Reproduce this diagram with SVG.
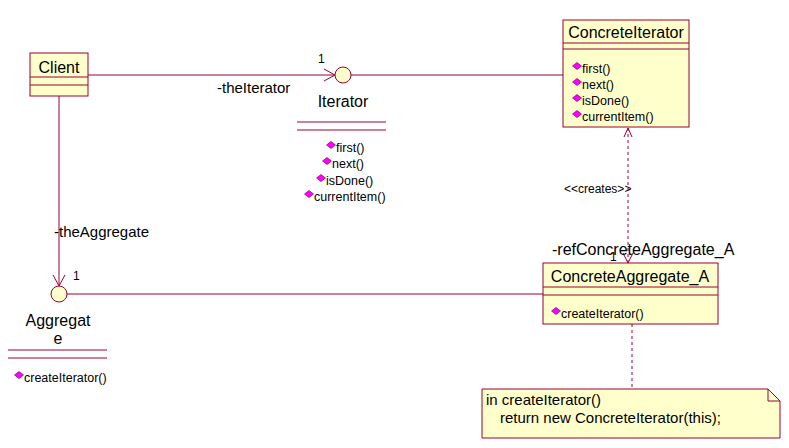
<svg xmlns="http://www.w3.org/2000/svg" width="789" height="448" viewBox="0 0 789 448">
<defs>
<style>
.box{fill:#FFFFCC;stroke:#990033;stroke-width:1}
.ln{stroke:#990033;stroke-width:1;fill:none}
.dash{stroke:#990033;stroke-width:1;fill:none;stroke-dasharray:3,3}
.t{font-family:"Liberation Sans",Arial,sans-serif;fill:#000}
.cn{font-size:16px}
.m{font-size:12.5px}
.lbl{font-size:15px}
.sm{font-size:12px}
.d{fill:#FF00FF;stroke:#800080;stroke-width:0.7}
</style>
<polygon id="dia" class="d" points="0,-3.5 4.5,0 0,3.5 -4.5,0"/>
</defs>
<rect width="789" height="448" fill="#FFFFFF"/>

<g id="connectors">
<line class="ln" x1="88" y1="75" x2="335" y2="75"/>
<polyline class="ln" points="324,69 335,75 324,81"/>
<line class="ln" x1="351" y1="75" x2="563" y2="75"/>
<line class="ln" x1="59" y1="96" x2="59" y2="286"/>
<polyline class="ln" points="53,275 59,286 65,275"/>
<line class="ln" x1="67" y1="294" x2="543" y2="294"/>
<line class="dash" x1="628" y1="128" x2="628" y2="263"/>
<polyline class="ln" points="624,137 628,128 632,137"/>
<polyline class="ln" points="623,253 628,263 633,253"/>
<line class="dash" x1="632" y1="324" x2="632" y2="389"/>
<text class="t lbl" x="217" y="93">-theIterator</text>
<text class="t sm" x="318" y="63">1</text>
<text class="t lbl" x="54" y="237">-theAggregate</text>
<text class="t sm" x="73" y="280">1</text>
<text class="t sm" x="564" y="193">&lt;&lt;creates&gt;&gt;</text>
<text class="t cn" x="552" y="255">-refConcreteAggregate_A</text>
<text class="t sm" x="610" y="261">1</text>
</g>

<g id="Client">
<rect class="box" x="30" y="53" width="58" height="43"/>
<line class="ln" x1="30" y1="77" x2="88" y2="77"/>
<line class="ln" x1="30" y1="85" x2="88" y2="85"/>
<text class="t cn" x="59" y="73" text-anchor="middle">Client</text>
</g>

<g id="Iterator">
<circle cx="343" cy="75" r="8" class="box"/>
<text class="t cn" x="343" y="107" text-anchor="middle">Iterator</text>
<line class="ln" x1="297" y1="122" x2="386" y2="122"/>
<line class="ln" x1="297" y1="130" x2="386" y2="130"/>
<use href="#dia" x="331" y="145"/>
<text class="t m" x="336" y="152">first()</text>
<use href="#dia" x="327" y="161"/>
<text class="t m" x="332" y="168">next()</text>
<use href="#dia" x="321" y="178"/>
<text class="t m" x="326" y="185">isDone()</text>
<use href="#dia" x="309" y="194"/>
<text class="t m" x="314" y="201">currentItem()</text>
</g>

<g id="ConcreteIterator">
<rect class="box" x="563" y="20" width="126" height="107"/>
<line class="ln" x1="563" y1="43" x2="689" y2="43"/>
<line class="ln" x1="563" y1="49" x2="689" y2="49"/>
<text class="t cn" x="626" y="38" text-anchor="middle">ConcreteIterator</text>
<use href="#dia" x="577" y="66"/>
<text class="t m" x="582" y="73">first()</text>
<use href="#dia" x="577" y="82"/>
<text class="t m" x="582" y="89">next()</text>
<use href="#dia" x="577" y="98"/>
<text class="t m" x="582" y="105">isDone()</text>
<use href="#dia" x="577" y="114"/>
<text class="t m" x="582" y="121">currentItem()</text>
</g>

<g id="Aggregate">
<circle cx="59" cy="294" r="8" class="box"/>
<text class="t cn" x="58" y="326" text-anchor="middle">Aggregat</text>
<text class="t cn" x="58" y="344" text-anchor="middle">e</text>
<line class="ln" x1="8" y1="350" x2="107" y2="350"/>
<line class="ln" x1="8" y1="358" x2="107" y2="358"/>
<use href="#dia" x="19" y="375"/>
<text class="t m" x="24" y="382">createIterator()</text>
</g>

<g id="ConcreteAggregate_A">
<rect class="box" x="543" y="263" width="175" height="61"/>
<line class="ln" x1="543" y1="287" x2="718" y2="287"/>
<line class="ln" x1="543" y1="295" x2="718" y2="295"/>
<text class="t cn" x="630" y="282" text-anchor="middle">ConcreteAggregate_A</text>
<use href="#dia" x="556" y="311"/>
<text class="t m" x="561" y="318">createIterator()</text>
</g>

<g id="note">
<polygon class="box" points="482,389 768,389 780,401 780,438 482,438"/>
<polyline class="ln" points="768,389 768,401 780,401"/>
<text class="t lbl" x="486" y="405">in createIterator()</text>
<text class="t lbl" x="500" y="423">return new ConcreteIterator(this);</text>
</g>
</svg>
